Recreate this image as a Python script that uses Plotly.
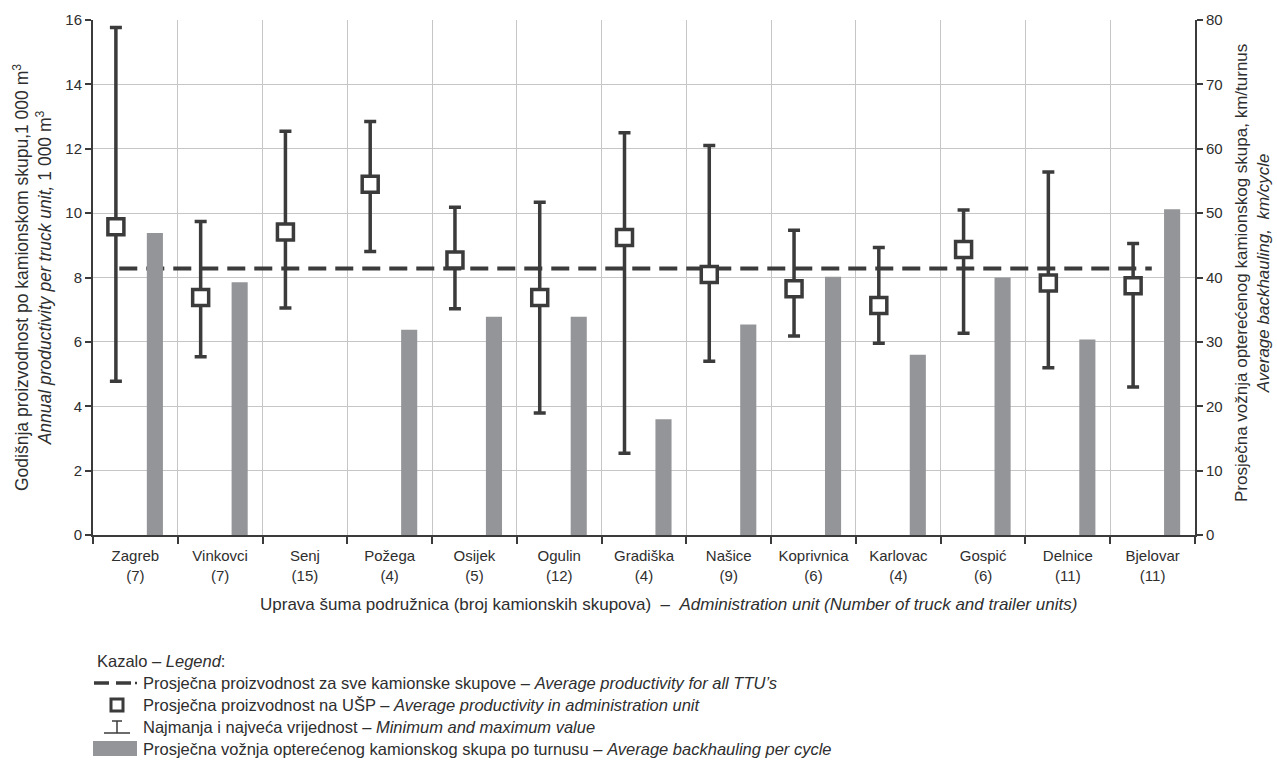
import plotly.graph_objects as go

# ---------------- data ----------------
units = ["Zagreb", "Vinkovci", "Senj", "Požega", "Osijek", "Ogulin", "Gradiška",
         "Našice", "Koprivnica", "Karlovac", "Gospić", "Delnice", "Bjelovar"]
truck_counts = [7, 7, 15, 4, 5, 12, 4, 9, 6, 4, 6, 11, 11]
prod_mean = [9.58, 7.38, 9.41, 10.90, 8.54, 7.38, 9.24, 8.09, 7.65, 7.13, 8.87, 7.83, 7.74]
prod_min = [4.78, 5.54, 7.05, 8.81, 7.03, 3.79, 2.54, 5.40, 6.18, 5.96, 6.27, 5.20, 4.60]
prod_max = [15.77, 9.74, 12.54, 12.85, 10.18, 10.34, 12.50, 12.10, 9.47, 8.93, 10.10, 11.28, 9.06]
backhaul_km = [46.9, 39.25, None, 31.9, 33.9, 33.9, 18.0, 32.7, 40.1, 28.0, 40.0, 30.35, 50.6]
avg_all = 8.28
left_ticks = [0, 2, 4, 6, 8, 10, 12, 14, 16]
right_ticks = [0, 10, 20, 30, 40, 50, 60, 70, 80]

# ---------------- style ----------------
FONT = "Liberation Sans Narrow, Arial Narrow, Liberation Sans, sans-serif"
DARK = "#3b3b3b"
TXT = "#2e2e2e"
GRID = "#c6c6c6"
BARC = "#949599"
W, H = 1277, 765
ML, MR, MT, MB = 93, 82, 20, 230
PW, PH = W - ML - MR, H - MT - MB

def px_x(p):
    return (p - ML) / PW

def px_y(p):
    return (H - MB - p) / PH

n = len(units)
err_x = [i + 0.27 for i in range(n)]
bar_x = [i + 0.73 for i in range(n)]
centers = [i + 0.5 for i in range(n)]
ticktext = [f"{u}<br>({c})" for u, c in zip(units, truck_counts)]

fig = go.Figure()

fig.add_trace(go.Bar(
    x=bar_x, y=backhaul_km, width=0.19, yaxis="y2",
    marker=dict(color=BARC, line=dict(width=0)), showlegend=False,
))

fig.add_trace(go.Scatter(
    x=[err_x[0] + 0.04, err_x[-1] + 0.22], y=[avg_all, avg_all], mode="lines",
    line=dict(color=DARK, width=4, dash="18px,9px"), showlegend=False,
))

fig.add_trace(go.Scatter(
    x=err_x, y=prod_mean, mode="markers",
    marker=dict(symbol="square", size=16, color="white", line=dict(color=DARK, width=3.5)),
    error_y=dict(type="data", symmetric=False,
                 array=[mx - m for mx, m in zip(prod_max, prod_mean)],
                 arrayminus=[m - mn for m, mn in zip(prod_mean, prod_min)],
                 color=DARK, thickness=3.5, width=6),
    showlegend=False,
))

axis_common = dict(showline=True, linecolor=DARK, linewidth=2, ticks="outside",
                   tickcolor=DARK, tickwidth=2, ticklen=6, zeroline=False,
                   tickfont=dict(family=FONT, size=15, color=TXT))

fig.update_layout(
    width=W, height=H, margin=dict(l=ML, r=MR, t=MT, b=MB),
    paper_bgcolor="white", plot_bgcolor="white",
    font=dict(family=FONT, size=15, color=TXT),
    showlegend=False,
    xaxis=dict(range=[0, n], tickmode="array", tickvals=centers, ticktext=ticktext,
               ticks="", showgrid=False, showline=True, linecolor=DARK, linewidth=2,
               zeroline=False, ticklabelstandoff=6,
               tickfont=dict(family=FONT, size=15, color=TXT),
               minor=dict(tickmode="linear", tick0=0, dtick=1, ticks="outside", ticklen=7,
                          tickcolor=DARK, tickwidth=2, showgrid=True, gridcolor=GRID,
                          gridwidth=1)),
    yaxis=dict(range=[0, 16], tickmode="array", tickvals=left_ticks,
               showgrid=True, gridcolor=GRID, gridwidth=1, **axis_common),
    yaxis2=dict(range=[0, 80], tickmode="array", tickvals=right_ticks, overlaying="y",
                side="right", showgrid=False, **axis_common),
)

ann = []
ann.append(dict(xref="paper", yref="paper", x=px_x(32), y=px_y(278), textangle=-90,
                xanchor="center", yanchor="middle", showarrow=False,
                font=dict(family=FONT, size=17.5, color=TXT),
                text="Godišnja proizvodnost po kamionskom skupu,1 000 m<sup>3</sup><br>"
                     "<i>Annual productivity per truck unit,</i> 1 000 m<sup>3</sup>"))
ann.append(dict(xref="paper", yref="paper", x=px_x(1252), y=px_y(273), textangle=-90,
                xanchor="center", yanchor="middle", showarrow=False,
                font=dict(family=FONT, size=17, color=TXT),
                text="Prosječna vožnja opterećenog kamionskog skupa, km/turnus<br>"
                     "<i>Average backhauling,  km/cycle</i>"))
ann.append(dict(xref="paper", yref="paper", x=px_x(668), y=px_y(604),
                xanchor="center", yanchor="middle", showarrow=False,
                font=dict(family=FONT, size=17, color=TXT),
                text="Uprava šuma podružnica (broj kamionskih skupova)  –  "
                     "<i>Administration unit (Number of truck and trailer units)</i>"))

legend_rows = [
    (661, 95, "Kazalo – <i>Legend</i>:"),
    (683, 141, "Prosječna proizvodnost za sve kamionske skupove – <i>Average productivity for all TTU’s</i>"),
    (705, 141, "Prosječna proizvodnost na UŠP – <i>Average productivity in administration unit</i>"),
    (727, 141, "Najmanja i najveća vrijednost – <i>Minimum and maximum value</i>"),
    (749, 141, "Prosječna vožnja opterećenog kamionskog skupa po turnusu – <i>Average backhauling per cycle</i>"),
]
for yy, xx, t in legend_rows:
    ann.append(dict(xref="paper", yref="paper", x=px_x(xx), y=px_y(yy),
                    xanchor="left", yanchor="middle", showarrow=False,
                    font=dict(family=FONT, size=16.5, color=TXT), text=t))
fig.update_layout(annotations=ann)

shapes = []
def seg(x0, y0, x1, y1, w, c=DARK):
    shapes.append(dict(type="line", xref="paper", yref="paper",
                       x0=px_x(x0), y0=px_y(y0), x1=px_x(x1), y1=px_y(y1),
                       line=dict(color=c, width=w)))
# dashed symbol
seg(94, 683, 109, 683, 3.5)
seg(116, 683, 131, 683, 3.5)
seg(135, 683, 137, 683, 2.5)
# square symbol
shapes.append(dict(type="rect", xref="paper", yref="paper",
                   x0=px_x(111), x1=px_x(123), y0=px_y(699), y1=px_y(711),
                   line=dict(color=DARK, width=3), fillcolor="white"))
# min/max symbol
seg(112, 721, 122, 721, 1.5)
seg(117, 721, 117, 733, 1.5)
seg(104, 733, 130, 733, 1.5)
# bar symbol
shapes.append(dict(type="rect", xref="paper", yref="paper",
                   x0=px_x(93), x1=px_x(137), y0=px_y(741), y1=px_y(756),
                   line=dict(width=0), fillcolor=BARC))
fig.update_layout(shapes=shapes)

fig.write_html("out.html")
